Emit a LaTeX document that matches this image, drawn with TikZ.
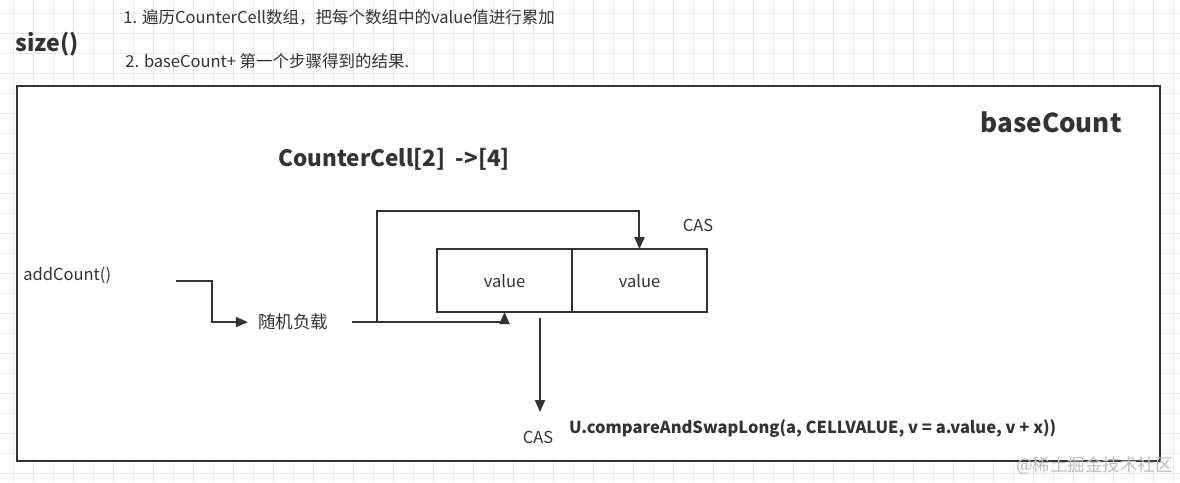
\documentclass[tikz,border=0pt]{standalone}
\usepackage{fontspec}
\setmainfont{Noto Sans CJK SC}
\usetikzlibrary{arrows.meta,positioning,calc}
\definecolor{ink}{RGB}{51,51,51}
\definecolor{gridline}{RGB}{232,232,232}
\definecolor{mark}{RGB}{190,190,190}

\begin{document}
\begin{tikzpicture}[x=1pt,y=-1pt,
  every node/.style={text=ink, inner sep=0pt},
  note/.style={font=\fontsize{16.5}{19}\selectfont, anchor=west},
  cell/.style={draw=ink, line width=2pt, outer sep=0pt, minimum width=135pt, minimum height=63pt, font=\fontsize{16.5}{19}\selectfont},
  flow/.style={draw=ink, line width=2pt, -{Triangle[length=12pt,width=10pt]}}]
  % background grid
  \fill[white] (0,0) rectangle (1180,482);
  \foreach \gx in {13,33,...,1173} \draw[gridline] (\gx,0) -- (\gx,482);
  \foreach \gy in {13,33,...,473} \draw[gridline] (0,\gy) -- (1180,\gy);
  \useasboundingbox (0,0) rectangle (1180,482);

  \node[draw=ink, line width=2.5pt, fill=white, minimum width=1143pt, minimum height=375pt] (frame) at (588.5,273.5) {};

  % notes on top
  \node[font=\bfseries\fontsize{23}{27}\selectfont, anchor=west] (sizefn) at (15,44) {size()};
  \node[note] (step1) at (123,17) {1. 遍历CounterCell数组，把每个数组中的value值进行累加};
  \node[note] (step2) at (125,61) {2. baseCount+ 第一个步骤得到的结果.};

  \node[font=\bfseries\fontsize{26}{30}\selectfont, anchor=east] (base) at (1122,122) {baseCount};
  \node[font=\bfseries\fontsize{22.5}{26}\selectfont, anchor=west] (cells) at (278,159) {CounterCell[2]\ \ ->[4]};

  \node[note] (add) at (23,275) {addCount()};
  \coordinate (addout) at (176,281);
  \node[note, font=\fontsize{17.5}{20}\selectfont, anchor=center] (rand) at (293,322) {随机负载};

  \node[cell] (c1) at (504.5,280.5) {value};
  \node[cell, right=0pt of c1] (c2) {value};
  \node[note, anchor=center] (cas1) at (698,225) {CAS};

  \coordinate (fork) at (377,321);
  \coordinate (drop) at (540,318);
  \coordinate (castop) at (540,412);
  \node[note, anchor=center] (cas2) at (538,437) {CAS};
  \node[font=\bfseries\fontsize{16.5}{19}\selectfont, anchor=west] (cmp) at (569,428) {U.compareAndSwapLong(a, CELLVALUE, v = a.value, v + x))};

  \node[text=mark, font=\fontsize{17.5}{20}\selectfont, anchor=east] (wm) at (1173,466) {@稀土掘金技术社区};

  % connectors
  \draw[flow] (addout) -- (212,281) |- ([xshift=-10pt]rand.west);
  \draw[flow] ([xshift=24pt]rand.east) -| (c1.south);
  \draw[flow] (fork) |- ($(c2.north)+(0,-38)$) -- (c2.north);
  \draw[flow] (drop) -- (castop);
\end{tikzpicture}
\end{document}
